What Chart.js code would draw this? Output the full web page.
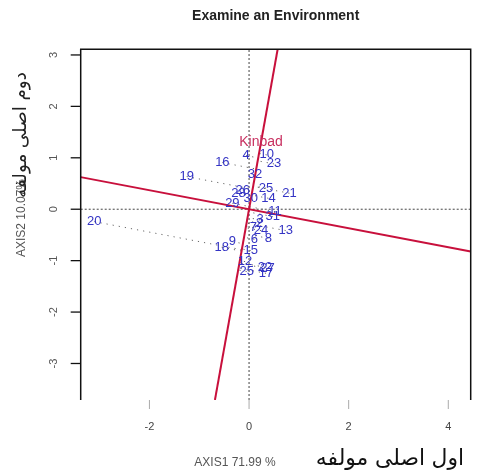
<!DOCTYPE html>
<html><head><meta charset="utf-8">
<script src="https://cdn.jsdelivr.net/npm/chart.js@4"></script>
<style>html,body{margin:0;padding:0;background:#fff}#c{display:block}</style>
</head><body>
<canvas id="c" width="484" height="474"></canvas>
<script>
// ---- data ----
const genotypeLabels = ['4','10','23','16','19','32','26','28','25','21','29','30','14','11','31','3','2','7','24','13','6','8','20','18','9','15','12','22','27','25','17'];
const genotypeX = [-0.06,0.355,0.50,-0.536,-1.252,0.12,-0.127,-0.214,0.341,0.81,-0.335,0.033,0.388,0.522,0.475,0.221,0.207,0.087,0.241,0.736,0.107,0.388,-3.106,-0.549,-0.335,0.033,-0.08,0.321,0.368,-0.047,0.341];
const genotypeY = [1.043,1.056,0.881,0.907,0.635,0.68,0.375,0.311,0.408,0.311,0.116,0.213,0.213,-0.046,-0.143,-0.208,-0.273,-0.357,-0.416,-0.416,-0.584,-0.565,-0.241,-0.74,-0.63,-0.805,-1.019,-1.129,-1.155,-1.213,-1.246];
const envLabels = ['Kinbad'];
const envX = [0.24];
const envY = [1.30];
const xTicks = [-2,0,2,4];
const yTicks = [-3,-2,-1,0,1,2,3];
const xRange = [-3.38, 4.45];
const yRange = [-3.71, 3.11];
const titleText = 'Examine an Environment';
const xTitle = 'AXIS1 71.99 %';
const yTitle = 'AXIS2 10.07%';
const xTitleFa = ['مولفه','اصلی','اول'];
const yTitleFa = ['مولفه','اصلی','دوم'];

// ---- derived datasets ----
const ex = envX[0], ey = envY[0];
const slopeAxis = ex/ey;
const envAxis = [{x: yRange[0]*slopeAxis, y: yRange[0]}, {x: yRange[1]*slopeAxis, y: yRange[1]}];
const perpAxis = [{x: xRange[0], y: -xRange[0]*slopeAxis}, {x: xRange[1], y: -xRange[1]*slopeAxis}];
const vv = ex*ex + ey*ey;
const projSets = genotypeX.map((gx,i)=>{
  const gy = genotypeY[i];
  const t = (gx*ex + gy*ey)/vv;
  return {type:'scatter', showLine:true, data:[{x:gx,y:gy},{x:t*ex,y:t*ey}],
    borderColor:'#666', borderWidth:1, borderDash:[1.2,5], pointRadius:0, order:5};
});
const RED = '#c8103c';
const datasets = [
  {showLine:true, data:envAxis, borderColor:RED, borderWidth:2, pointRadius:0, order:1},
  {showLine:true, data:perpAxis, borderColor:RED, borderWidth:2, pointRadius:0, order:1},
  {showLine:true, data:[{x:xRange[0],y:0},{x:xRange[1],y:0}], borderColor:'#444', borderWidth:1, borderDash:[2,2], pointRadius:0, order:6},
  {showLine:true, data:[{x:0,y:yRange[0]},{x:0,y:yRange[1]}], borderColor:'#444', borderWidth:1, borderDash:[2,2], pointRadius:0, order:6},
  ...projSets,
  {id:'geno', data:genotypeX.map((x,i)=>({x, y:genotypeY[i]})), pointRadius:0, showLine:false, order:0},
  {id:'env', data:envX.map((x,i)=>({x, y:envY[i]})), pointRadius:0, showLine:false, order:0}
];
const GENO_IDX = datasets.length-2, ENV_IDX = datasets.length-1;

function drawWords(ctx, words, cx, cy, gap){
  const widths = words.map(w=>ctx.measureText(w).width);
  const total = widths.reduce((a,b)=>a+b,0) + gap*(words.length-1);
  let x = cx - total/2;
  ctx.textAlign='left';
  words.forEach((w,i)=>{ ctx.fillText(w, x, cy); x += widths[i]+gap; });
}
function fitFont(ctx, words, family, target){
  ctx.font = '20px '+family;
  const w = words.map(s=>ctx.measureText(s).width).reduce((a,b)=>a+b,0) + 5*(words.length-1);
  return 20*target/w;
}

const deco = {
  id:'deco',
  afterDatasetsDraw(chart){
    const ctx = chart.ctx, a = chart.chartArea;
    const xs = chart.scales.x, ys = chart.scales.y;
    ctx.save();
    // frame (left, top, right)
    ctx.strokeStyle='#111'; ctx.lineWidth=1.5;
    ctx.beginPath();
    ctx.moveTo(a.left, a.bottom); ctx.lineTo(a.left, a.top); ctx.lineTo(a.right, a.top); ctx.lineTo(a.right, a.bottom);
    ctx.stroke();
    // y ticks
    ctx.lineWidth=1.3;
    yTicks.forEach(v=>{
      const p = ys.getPixelForValue(v);
      ctx.beginPath(); ctx.moveTo(a.left-10, p); ctx.lineTo(a.left, p); ctx.stroke();
      ctx.save(); ctx.translate(54, p); ctx.rotate(-Math.PI/2);
      ctx.fillStyle='#555'; ctx.font='11px "Liberation Sans", Arial, sans-serif';
      ctx.textAlign='center'; ctx.textBaseline='middle'; ctx.fillText(String(v),0,0); ctx.restore();
    });
    // x ticks
    ctx.strokeStyle='#aaa'; ctx.lineWidth=1;
    xTicks.forEach(v=>{
      const p = xs.getPixelForValue(v);
      ctx.beginPath(); ctx.moveTo(p, a.bottom); ctx.lineTo(p, a.bottom+9); ctx.stroke();
      ctx.fillStyle='#444'; ctx.font='11px "Liberation Sans", Arial, sans-serif';
      ctx.textAlign='center'; ctx.textBaseline='middle'; ctx.fillText(String(v), p, 427);
    });
    // title
    ctx.fillStyle='#222'; ctx.font='bold 14px "Liberation Sans", Arial, sans-serif';
    ctx.textAlign='center'; ctx.textBaseline='middle';
    ctx.fillText(titleText, (a.left+a.right)/2, 16);
    // x titles
    ctx.fillStyle='#555'; ctx.font='12px "Liberation Sans", Arial, sans-serif';
    ctx.fillText(xTitle, 235, 463);
    const fam = '"DejaVu Sans", "Noto Sans", serif';
    let fs = fitFont(ctx, xTitleFa, fam, 146);
    ctx.fillStyle='#111'; ctx.font = fs.toFixed(1)+'px '+fam; ctx.textBaseline='middle';
    drawWords(ctx, xTitleFa, 390, 459, fs*0.3);
    // y titles
    ctx.save(); ctx.translate(22, 218); ctx.rotate(-Math.PI/2);
    ctx.fillStyle='#555'; ctx.font='12px "Liberation Sans", Arial, sans-serif';
    ctx.textAlign='center'; ctx.textBaseline='middle'; ctx.fillText(yTitle,0,0);
    ctx.restore();
    ctx.save(); ctx.translate(21, 135); ctx.rotate(-Math.PI/2);
    fs = fitFont(ctx, yTitleFa, fam, 124);
    ctx.fillStyle='#222'; ctx.font = fs.toFixed(1)+'px '+fam; ctx.textBaseline='middle';
    drawWords(ctx, yTitleFa, 0, 0, fs*0.3);
    ctx.restore();
    // point labels
    ctx.textAlign='center'; ctx.textBaseline='middle';
    const gm = chart.getDatasetMeta(GENO_IDX);
    ctx.fillStyle='#3434c4'; ctx.font='13px "Liberation Sans", Arial, sans-serif';
    gm.data.forEach((el,i)=>ctx.fillText(genotypeLabels[i], el.x, el.y));
    const em = chart.getDatasetMeta(ENV_IDX);
    ctx.fillStyle='#c83060'; ctx.font='14px "Liberation Sans", Arial, sans-serif';
    em.data.forEach((el,i)=>ctx.fillText(envLabels[i], el.x, el.y));
    ctx.restore();
  }
};

new Chart(document.getElementById('c'), {
  type:'scatter',
  data:{datasets},
  options:{
    responsive:false, animation:false, devicePixelRatio:1,
    layout:{padding:{left:80.7, right:13.3, top:49.3, bottom:74}},
    plugins:{legend:{display:false}, tooltip:{enabled:false}},
    scales:{
      x:{type:'linear', min:xRange[0], max:xRange[1], display:false},
      y:{type:'linear', min:yRange[0], max:yRange[1], display:false}
    }
  },
  plugins:[deco]
});
</script>
</body></html>
